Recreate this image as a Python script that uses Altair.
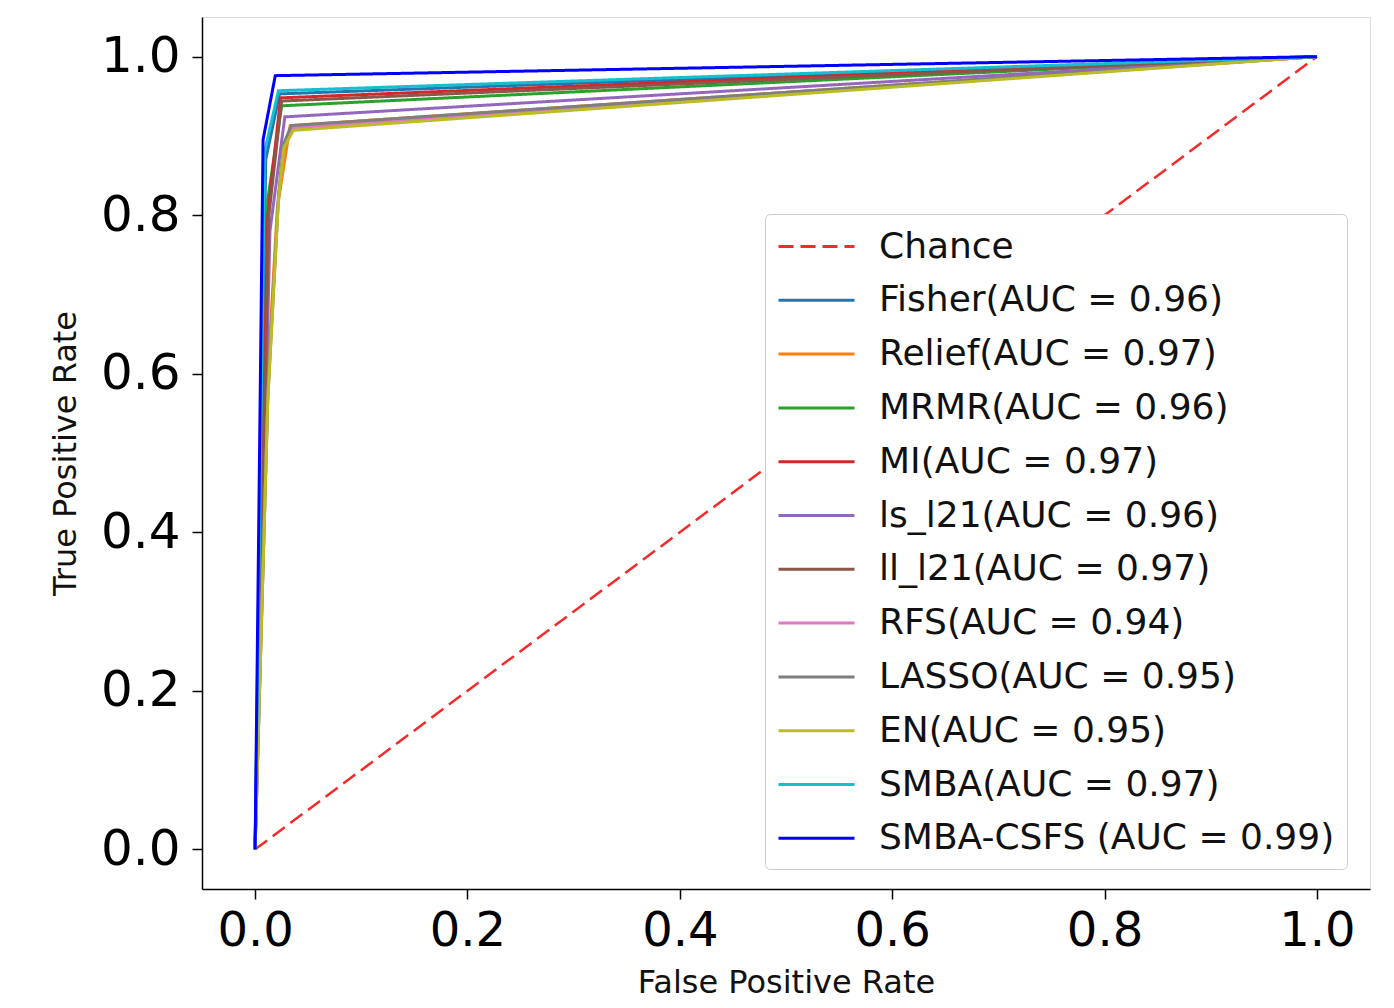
import altair as alt
import pandas as pd

# ---- data ----
names = ["Chance", "Fisher", "Relief", "MRMR", "MI", "ls_l21", "ll_l21",
         "RFS", "LASSO", "EN", "SMBA", "SMBA-CSFS "]
aucs = [None, 0.96, 0.97, 0.96, 0.97, 0.96, 0.97, 0.94, 0.95, 0.95, 0.97, 0.99]
colors = ["#f52a2a", "#1f77b4", "#ff7f0e", "#2ca02c", "#d62728", "#9467bd",
          "#8c564b", "#e377c2", "#7f7f7f", "#bcbd22", "#17becf", "#0000ff"]

chance_fpr = [0.0, 1.0]
chance_tpr = [0.0, 1.0]

fisher_fpr = [0.0, 0.010, 0.023, 1.0]
fisher_tpr = [0.0, 0.870, 0.953, 1.0]
relief_fpr = [0.0, 0.012, 0.021, 0.033, 1.0]
relief_tpr = [0.0, 0.600, 0.810, 0.913, 1.0]
mrmr_fpr = [0.0, 0.012, 0.025, 1.0]
mrmr_tpr = [0.0, 0.820, 0.938, 1.0]
mi_fpr = [0.0, 0.012, 0.024, 1.0]
mi_tpr = [0.0, 0.800, 0.948, 1.0]
ls_fpr = [0.0, 0.014, 0.028, 1.0]
ls_tpr = [0.0, 0.780, 0.924, 1.0]
ll_fpr = [0.0, 0.013, 0.025, 1.0]
ll_tpr = [0.0, 0.800, 0.944, 1.0]
rfs_fpr = [0.0, 0.012, 0.022, 0.027, 0.035, 1.0]
rfs_tpr = [0.0, 0.570, 0.820, 0.885, 0.910, 1.0]
lasso_fpr = [0.0, 0.012, 0.022, 0.027, 0.034, 1.0]
lasso_tpr = [0.0, 0.575, 0.825, 0.890, 0.913, 1.0]
en_fpr = [0.0, 0.012, 0.022, 0.027, 0.036, 1.0]
en_tpr = [0.0, 0.567, 0.820, 0.885, 0.907, 1.0]
smba_fpr = [0.0, 0.009, 0.022, 1.0]
smba_tpr = [0.0, 0.880, 0.957, 1.0]
csfs_fpr = [0.0, 0.0075, 0.019, 1.0]
csfs_tpr = [0.0, 0.895, 0.976, 1.0]

fprs = [chance_fpr, fisher_fpr, relief_fpr, mrmr_fpr, mi_fpr, ls_fpr, ll_fpr,
        rfs_fpr, lasso_fpr, en_fpr, smba_fpr, csfs_fpr]
tprs = [chance_tpr, fisher_tpr, relief_tpr, mrmr_tpr, mi_tpr, ls_tpr, ll_tpr,
        rfs_tpr, lasso_tpr, en_tpr, smba_tpr, csfs_tpr]

labels = [n if a is None else f"{n}(AUC = {a:.2f})" for n, a in zip(names, aucs)]
dashes = [[15, 7]] + [[1, 0]] * (len(labels) - 1)

rows = []
for k, (lab, xs, ys) in enumerate(zip(labels, fprs, tprs)):
    for i, (xv, yv) in enumerate(zip(xs, ys)):
        rows.append({"series": lab, "k": k, "i": i, "fpr": xv, "tpr": yv})
df = pd.DataFrame(rows)

xscale = alt.Scale(domain=[-0.05, 1.05], nice=False, zero=False)
yscale = alt.Scale(domain=[-0.05, 1.05], nice=False, zero=False)
ticks = [0.0, 0.2, 0.4, 0.6, 0.8, 1.0]

color = alt.Color(
    "series:N",
    scale=alt.Scale(domain=labels, range=colors),
    sort=labels,
    legend=alt.Legend(
        title=None, orient="none", legendX=563, legendY=197,
        symbolType="M-1,0H3", symbolSize=1444, symbolStrokeWidth=3,
        labelFontSize=36, labelFont="DejaVu Sans", labelColor="#111111",
        labelLimit=800, labelOffset=61, rowPadding=14.8,
        padding=12, fillColor="white", strokeColor="#cccccc", cornerRadius=5,
    ),
)
dash = alt.StrokeDash("series:N", scale=alt.Scale(domain=labels, range=dashes), sort=labels)

xenc = alt.X("fpr:Q", scale=xscale, title="False Positive Rate",
             axis=alt.Axis(values=ticks, format=".1f", grid=False,
                           labelFontSize=48, labelFont="DejaVu Sans",
                           titleFontSize=32, titleFont="DejaVu Sans",
                           labelPadding=8, titlePadding=12,
                           tickSize=10, tickWidth=1.5, tickColor="black",
                           domainColor="black", domainWidth=1.5,
                           labelColor="black", titleColor="#111111",
                           titleFontWeight="normal"))
yenc = alt.Y("tpr:Q", scale=yscale, title="True Positive Rate",
             axis=alt.Axis(values=ticks, format=".1f", grid=False,
                           labelFontSize=50, labelFont="DejaVu Sans",
                           titleFontSize=32, titleFont="DejaVu Sans",
                           labelPadding=12, titlePadding=18,
                           tickSize=10, tickWidth=1.5, tickColor="black",
                           domainColor="black", domainWidth=1.5,
                           labelColor="black", titleColor="#111111",
                           titleFontWeight="normal"))

base = alt.Chart(df)
chance = base.transform_filter(alt.datum.k == 0).mark_line(strokeWidth=2.5).encode(
    x=xenc, y=yenc, color=color, strokeDash=dash, order="i:Q")
curves = base.transform_filter(alt.datum.k > 0).mark_line(strokeWidth=3).encode(
    x=xenc, y=yenc, color=color, strokeDash=dash, order="i:Q")

chart = alt.layer(chance, curves).properties(
    width=1168, height=872,
    autosize=alt.AutoSizeParams(type="none"),
    padding={"left": 194, "top": 9, "right": 16, "bottom": 111},
).configure_view(stroke="black", strokeWidth=1.5).configure(background="white")

chart.save("out.html", embed_options={"renderer": "svg", "actions": False})
